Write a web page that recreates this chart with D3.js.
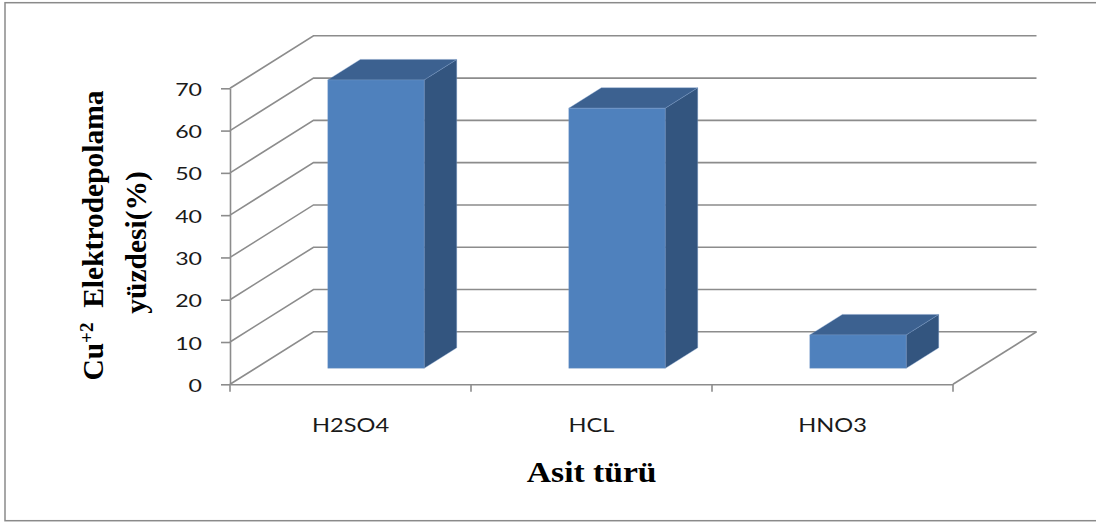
<!DOCTYPE html>
<html>
<head>
<meta charset="utf-8">
<script src="https://cdn.jsdelivr.net/npm/d3@7"></script>
<style>
  html, body { margin: 0; padding: 0; background: #ffffff; }
  svg { display: block; }
</style>
</head>
<body>
<svg id="chart" width="1096" height="522"></svg>
<script>
// ---- data ----
const categories = ["H2SO4", "HCL", "HNO3"];
const values = [68.2, 61.5, 7.9];
const yTicks = [0, 10, 20, 30, 40, 50, 60, 70];
const yTitleBase = "Cu";
const yTitleSup = "+2";
const yTitleRest = "  Elektrodepolama";
const yTitleLine2 = "yüzdesi(%)";
const xTitle = "Asit türü";

// ---- layout ----
const svg = d3.select("#chart");
const plot = { left: 230, right: 953, bottom: 384.3, top: 88.3 };
const depth = { dx: 83.5, dy: 52.5 };      // oblique offset of the back wall
const barDepth = { front: 0.305, back: 0.695 };
const barFrac = 0.4;                        // bar width as share of the band
const colors = { front: "#4f81bd", top: "#3c6190", side: "#33557f", grid: "#8c8c8c" };

const x = d3.scaleBand().domain(categories).range([plot.left, plot.right]);
const y = d3.scaleLinear().domain([0, 70]).range([plot.bottom, plot.top]);
const proj = (px, v, d) => [px + d * depth.dx, y(v) - d * depth.dy];
const line = d3.line();

// outer frame
svg.append("rect")
  .attr("x", 5).attr("y", 2.7).attr("width", 1110).attr("height", 518)
  .attr("fill", "none").attr("stroke", "#8a8a8a").attr("stroke-width", 1.5);

// side wall, back wall and floor gridlines
const grid = svg.append("g").attr("fill", "none")
  .attr("stroke", colors.grid).attr("stroke-width", 1.6);
grid.selectAll("path.g").data(yTicks).join("path")
  .attr("class", "g")
  .attr("d", v => line([proj(plot.left, v, 0), proj(plot.left, v, 1), proj(plot.right, v, 1)]));
grid.append("path")
  .attr("d", line([proj(plot.right, 0, 0), proj(plot.right, 0, 1)]));

// bars as three-faced prisms
const bars = svg.append("g").selectAll("g.bar")
  .data(categories.map((c, i) => ({ c, v: values[i] })))
  .join("g").attr("class", "bar");

function faces(d) {
  const bw = x.bandwidth() * barFrac;
  const x0 = x(d.c) + (x.bandwidth() - bw) / 2, x1 = x0 + bw;
  const f = barDepth.front, b = barDepth.back;
  return {
    front: [proj(x0, 0, f), proj(x1, 0, f), proj(x1, d.v, f), proj(x0, d.v, f)],
    top: [proj(x0, d.v, f), proj(x1, d.v, f), proj(x1, d.v, b), proj(x0, d.v, b)],
    side: [proj(x1, 0, f), proj(x1, 0, b), proj(x1, d.v, b), proj(x1, d.v, f)]
  };
}
["side", "top", "front"].forEach(k => {
  bars.append("path")
    .attr("d", d => line(faces(d)[k]) + "Z")
    .attr("fill", colors[k])
    .attr("stroke", "#7b9ccb").attr("stroke-opacity", 0.45).attr("stroke-width", 0.8)
    .attr("stroke-linejoin", "round");
});

// stretch a text run horizontally by a factor
function widen(sel, k) {
  sel.each(function () {
    const w = this.getComputedTextLength();
    d3.select(this).attr("textLength", w * k).attr("lengthAdjust", "spacingAndGlyphs");
  });
}

// value axis
const yAxis = svg.append("g")
  .attr("transform", `translate(${plot.left},0)`)
  .call(d3.axisLeft(y).tickValues(yTicks).tickSize(9).tickSizeOuter(0).tickPadding(19));
yAxis.select(".domain").attr("stroke", colors.grid).attr("stroke-width", 1.6);
yAxis.selectAll(".tick line").attr("stroke", colors.grid).attr("stroke-width", 1.6);
yAxis.selectAll(".tick text")
  .attr("dy", "0.42em")
  .style("font-family", "Lato, 'Open Sans', sans-serif")
  .style("font-size", "16.8px")
  .attr("fill", "#1a1a1a")
  .call(widen, 1.38);

// category axis
const xAxis = svg.append("g")
  .attr("transform", `translate(0,${plot.bottom})`)
  .call(d3.axisBottom(x).tickSize(0).tickSizeOuter(0).tickPadding(34));
xAxis.select(".domain").attr("stroke", colors.grid).attr("stroke-width", 1.6);
xAxis.selectAll(".tick text")
  .style("font-family", "Lato, 'Open Sans', sans-serif")
  .style("font-size", "18.6px")
  .attr("fill", "#1a1a1a")
  .call(widen, 1.27);
xAxis.selectAll("line.edge")
  .data([...categories.map(c => x(c)), plot.right])
  .join("line").attr("class", "edge")
  .attr("x1", d => d).attr("x2", d => d)
  .attr("y1", 0).attr("y2", 7.4)
  .attr("stroke", colors.grid).attr("stroke-width", 1.6);

// axis titles
const serif = "'Liberation Serif', 'Times New Roman', serif";
const t1 = svg.append("text")
  .attr("transform", "translate(103,235.5) rotate(-90)")
  .attr("text-anchor", "middle")
  .style("font-family", serif).style("font-weight", "bold").style("font-size", "29.5px")
  .style("white-space", "pre").attr("fill", "#000");
t1.append("tspan").text(yTitleBase);
t1.append("tspan").attr("dy", -10).style("font-size", "19px").text(yTitleSup);
t1.append("tspan").attr("dy", 10).text(yTitleRest);

svg.append("text")
  .attr("transform", "translate(146,242.5) rotate(-90)")
  .attr("text-anchor", "middle")
  .style("font-family", serif).style("font-weight", "bold").style("font-size", "29.5px")
  .attr("fill", "#000")
  .text(yTitleLine2);

svg.append("text")
  .attr("x", 591.7).attr("y", 481.7)
  .attr("text-anchor", "middle")
  .style("font-family", serif).style("font-weight", "bold").style("font-size", "30px")
  .attr("fill", "#000")
  .text(xTitle)
  .call(widen, 1.12);
</script>
</body>
</html>
